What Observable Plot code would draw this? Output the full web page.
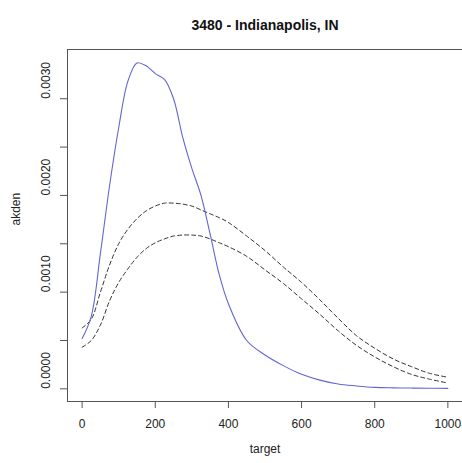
<!DOCTYPE html>
<html>
<head>
<meta charset="utf-8">
<script src="https://cdn.jsdelivr.net/npm/d3@7"></script>
<script src="https://cdn.jsdelivr.net/npm/@observablehq/plot@0.6"></script>
<style>
  html, body { margin: 0; padding: 0; background: white; }
</style>
</head>
<body>
<div id="chart"></div>
<script>
const title = "3480 - Indianapolis, IN";
const xLabel = "target";
const yLabel = "akden";

const target = [0, 25, 50, 75, 100, 125, 150, 175, 200, 225, 250, 275, 300, 325, 350, 375, 400,
  450, 500, 550, 600, 650, 700, 750, 800, 850, 900, 950, 1000];

const akden = [0.00052, 0.00075, 0.00140, 0.00210, 0.00270, 0.00318, 0.00337, 0.00334, 0.00326,
  0.00320, 0.00300, 0.00260, 0.00228, 0.00200, 0.00160, 0.00118, 0.00088,
  0.00050, 0.00035, 0.00024, 0.00015, 0.00009, 0.00005, 0.00003, 0.000015, 0.00001, 0.000008, 0.000006, 0.000005];

const upperBand = [0.00063, 0.00072, 0.00100, 0.00128, 0.00150, 0.00165, 0.00176, 0.00184, 0.00189,
  0.00192, 0.00192, 0.00191, 0.00189, 0.00185, 0.00181, 0.00177, 0.00172,
  0.00158, 0.00143, 0.00126, 0.00110, 0.00092, 0.00073, 0.00055, 0.00042, 0.00031, 0.00023, 0.00016, 0.00012];

const lowerBand = [0.00043, 0.00050, 0.00066, 0.00091, 0.00110, 0.00124, 0.00136, 0.00145, 0.00151,
  0.00155, 0.00158, 0.00159, 0.00159, 0.00158, 0.00155, 0.00151, 0.00147,
  0.00137, 0.00123, 0.00109, 0.00093, 0.00077, 0.00060, 0.00045, 0.00033, 0.00023, 0.00015, 0.00010, 0.00006];

const xTicks = [0, 200, 400, 600, 800, 1000];
const yTicks = [0, 0.0005, 0.001, 0.0015, 0.002, 0.0025, 0.003];
const yTickLabels = [0, 0.001, 0.002, 0.003];

const rows = (ys) => target.map((t, i) => ({target: t, value: ys[i]}));

const chart = Plot.plot({
  width: 462,
  height: 463,
  marginLeft: 67,
  marginRight: 0,
  marginTop: 49,
  marginBottom: 62,
  style: {fontFamily: "'Liberation Sans', Arial, Helvetica, sans-serif", fontSize: "12px", background: "white", color: "#222"},
  x: {domain: [-40, 1040]},
  y: {domain: [-0.000131, 0.003509]},
  marks: [
    Plot.line(rows(upperBand), {x: "target", y: "value", stroke: "#333", strokeWidth: 1, strokeDasharray: "4,3", curve: "catmull-rom"}),
    Plot.line(rows(lowerBand), {x: "target", y: "value", stroke: "#333", strokeWidth: 1, strokeDasharray: "4,3", curve: "catmull-rom"}),
    Plot.line(rows(akden), {x: "target", y: "value", stroke: "#6464d2", strokeWidth: 1.1, curve: "catmull-rom"}),
    Plot.frame({stroke: "#555"}),
    Plot.axisX({ticks: xTicks, tickSize: 7, tickPadding: 11, label: null, stroke: "#555", tickFormat: d3.format("d")}),
    Plot.axisY({ticks: yTicks, tickSize: 7, label: null, stroke: "#555", tickFormat: () => ""}),
    Plot.text(yTickLabels, {y: d => d, text: d => d3.format(".4f")(d), frameAnchor: "left", rotate: -90, dx: -21, fill: "#222", fontSize: 12}),
    Plot.text([title], {frameAnchor: "top", dy: -29, fontWeight: "bold", fontSize: 14, fill: "#111"}),
    Plot.text([xLabel], {frameAnchor: "bottom", dy: 51, fontSize: 12, fill: "#222"}),
    Plot.text([yLabel], {frameAnchor: "left", dx: -51, rotate: -90, fontSize: 12, fill: "#222"})
  ]
});
document.getElementById("chart").appendChild(chart);
</script>
</body>
</html>
